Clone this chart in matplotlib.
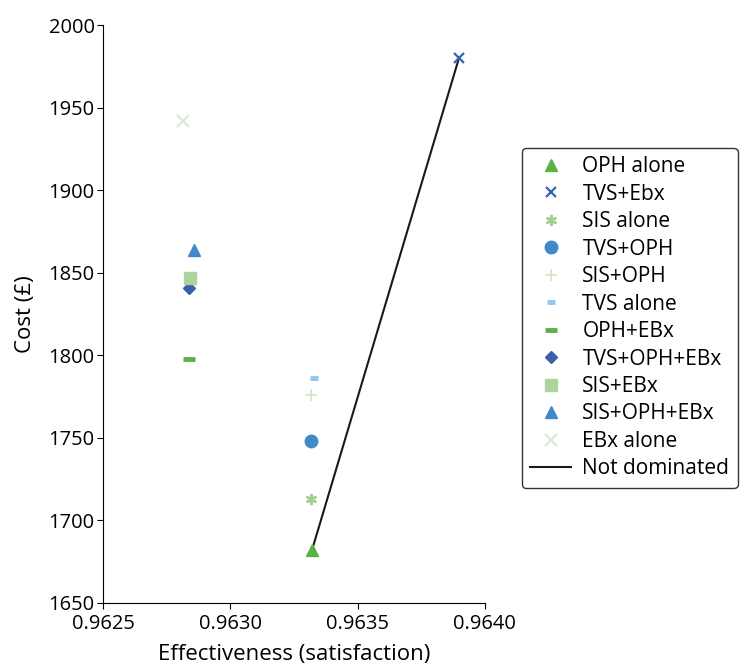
import numpy as np
import matplotlib
matplotlib.use("Agg")
import matplotlib.pyplot as plt

plt.rcParams['font.family'] = ['Open Sans', 'DejaVu Sans']

# strategies: effectiveness (satisfaction) and cost (GBP)
labels = ['OPH alone', 'TVS+Ebx', 'SIS alone', 'TVS+OPH', 'SIS+OPH', 'TVS alone',
          'OPH+EBx', 'TVS+OPH+EBx', 'SIS+EBx', 'SIS+OPH+EBx', 'EBx alone']
effect = [0.963321, 0.963898, 0.963318, 0.963318, 0.963318, 0.963328,
          0.962838, 0.962836, 0.962841, 0.962857, 0.962814]
cost = [1682, 1980, 1713, 1748, 1776, 1786,
        1798, 1841, 1847, 1864, 1942]

# frontier (not dominated)
front_x = [0.963321, 0.963898]
front_y = [1682, 1980]

styles = [
    dict(marker='^', color='#5cb146', ms=9),
    dict(marker='x', color='#3a63b0', ms=7, mew=1.6),
    dict(marker=(6, 2, 0), color='#a6cf8f', ms=8, mew=1.6),
    dict(marker='o', color='#4189c9', ms=9),
    dict(marker='+', color='#d3e8c6', ms=9, mew=1.3),
    dict(marker='_', color='#8ccaf0', ms=6, mew=3.5),
    dict(marker='_', color='#5cb146', ms=9, mew=3.5),
    dict(marker='D', color='#3a5fab', ms=6.5),
    dict(marker='s', color='#add49a', ms=9),
    dict(marker='^', color='#4189c9', ms=9),
    dict(marker='x', color='#d8ecd0', ms=8, mew=1.6),
]

fig = plt.figure(figsize=(7.46, 6.64), dpi=100)
ax = fig.add_axes([0.138, 0.092, 0.512, 0.870])

handles = []
for lab, x, y, st in zip(labels, effect, cost, styles):
    h, = ax.plot([x], [y], linestyle='none', label=lab, clip_on=False, **st)
    handles.append(h)
ln, = ax.plot(front_x, front_y, color='#1a1a1a', lw=1.5, label='Not dominated', zorder=1)
handles.append(ln)

ax.set_xlim(0.9625, 0.9640)
ax.set_ylim(1650, 2000)
ax.set_xticks([0.9625, 0.9630, 0.9635, 0.9640])
ax.set_xticklabels(['0.9625', '0.9630', '0.9635', '0.9640'])
ax.set_yticks(np.arange(1650, 2001, 50))
ax.tick_params(labelsize=14.5, direction='out', length=4, pad=2)
ax.tick_params(axis='x', pad=4)
ax.spines['top'].set_visible(False)
ax.spines['right'].set_visible(False)
ax.set_xlabel('Effectiveness (satisfaction)', fontsize=16, labelpad=7)
ax.set_ylabel('Cost (£)', fontsize=16, labelpad=9)

leg = fig.legend(handles=handles, loc='upper left', bbox_to_anchor=(522 / 746, 1 - 148 / 664),
                 borderaxespad=0, fontsize=15, frameon=True, edgecolor='black', fancybox=True,
                 labelspacing=0.31, handlelength=1.95, handletextpad=0.55, borderpad=0.4)
leg.get_frame().set_linewidth(1.0)

fig.savefig('out.png', dpi=100)
